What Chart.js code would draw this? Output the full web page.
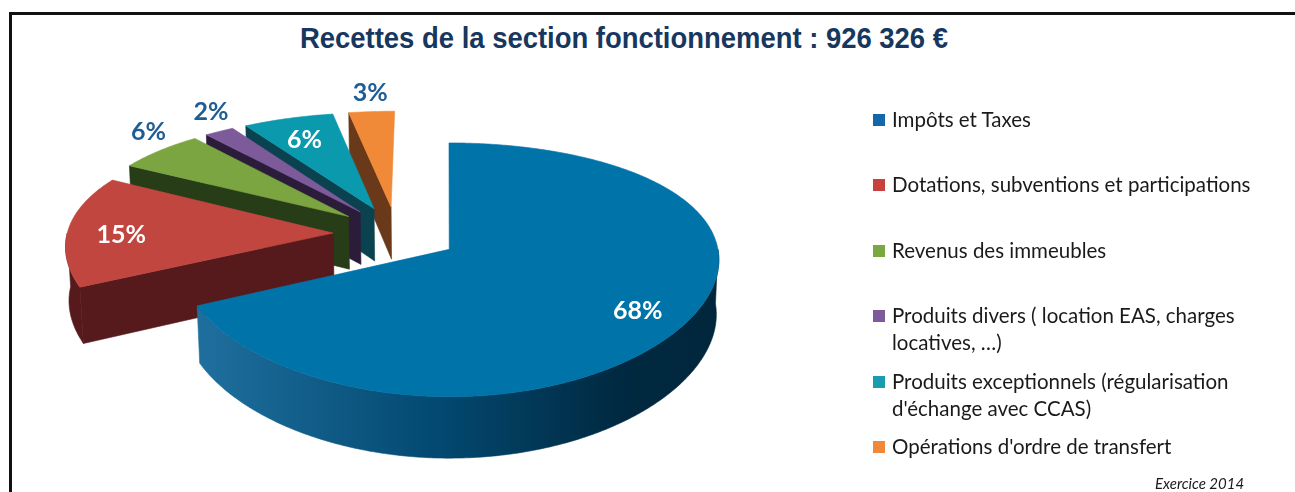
<!DOCTYPE html>
<html>
<head>
<meta charset="utf-8">
<script src="https://cdn.jsdelivr.net/npm/chart.js@4/dist/chart.umd.min.js"></script>
<style>
  body { margin: 0; background: #fff; }
  #wrap { position: relative; width: 1295px; height: 492px; overflow: hidden; }
  #frame { position: absolute; left: 9px; top: 12px; right: -10px; bottom: -10px;
           border-left: 3px solid #111; border-top: 3px solid #111; }
  #title { position: absolute; left: 624px; top: 22px; white-space: nowrap;
           font: bold 29px 'Liberation Sans', Arial, sans-serif;
           color: #17375e; line-height: 32px; transform-origin: 0 0; }
  #legend { position: absolute; left: 873px; top: 106px; width: 420px;
            font: 20.5px Lato, sans-serif; color: #1a1a1a; }
  .item { height: 65.4px; display: flex; align-items: flex-start; }
  .box { width: 12px; height: 12px; margin-top: 8px; margin-right: 7px; flex: none; }
  .txt { line-height: 27px; max-width: 368px; }
  #note { position: absolute; left: 1155px; top: 474px; font: italic 15px Lato, sans-serif; color: #1a1a1a; }
  canvas { position: absolute; left: 0; top: 0; }
</style>
</head>
<body>
<div id="wrap">
  <div id="frame"></div>
  <div id="title">Recettes de la section fonctionnement : 926 326 €</div>
  <div style="position:absolute;left:0;top:0;width:1295px;height:492px"><canvas id="pie3d"></canvas></div>
  <div id="legend"></div>
  <div id="note">Exercice 2014</div>
</div>
<script>
const categories = [
    'Impôts et Taxes',
    'Dotations, subventions et participations',
    'Revenus des immeubles',
    'Produits divers ( location EAS, charges locatives, …)',
    "Produits exceptionnels (régularisation d'échange avec CCAS)",
    "Opérations d'ordre de transfert"
];
const shares = [68, 15, 6, 2, 6, 3];

const topColors = ['#0073a8', '#c0463f', '#7ba541', '#7d5a9a', '#0a99ad', '#f08a38'];
const sideColors = ['#0b4f78', '#561a1c', '#263d17', '#2b1d3a', '#0b4250', '#6a391a'];
const legendColors = ['#1468a8', '#c8423d', '#79a83e', '#7c5a9c', '#1b9bb0', '#f1873a'];
const labelInside = [true, true, false, false, true, false];

// 3d look
const tilt = 26.5 * Math.PI / 180;
const camDist = 1509;
const camShiftX = 50;
const hPersp = 0.5;
const depth = 61;
const explode = 63;

function project(cx, cy, a, b, z) {
    const w = b * Math.cos(tilt) + z * Math.sin(tilt);
    const s = camDist / (camDist - w);
    const sx = 1 + (s - 1) * hPersp;
    return [cx + camShiftX + sx * (a - camShiftX), cy + s * (b * Math.sin(tilt) - z * Math.cos(tilt))];
}

function drawSlice(ctx, el, i) {
    const {x: cx, y: cy, startAngle: s0, endAngle: s1, outerRadius: R} = el;
    const mid = (s0 + s1) / 2;
    const ox = explode * Math.cos(mid), oy = explode * Math.sin(mid);
    const P = (th, r, z) => project(cx, cy, ox + r * Math.cos(th), oy + r * Math.sin(th), z);
    const arc = (a0, a1, z) => {
        const n = Math.max(6, Math.ceil(Math.abs(a1 - a0) / 0.01));
        const pts = [];
        for (let k = 0; k <= n; k++) pts.push(P(a0 + (a1 - a0) * k / n, R, z));
        return pts;
    };
    const fill = (pts, style) => {
        ctx.beginPath();
        pts.forEach((p, k) => k ? ctx.lineTo(p[0], p[1]) : ctx.moveTo(p[0], p[1]));
        ctx.closePath();
        ctx.fillStyle = style;
        ctx.fill();
        ctx.strokeStyle = style;
        ctx.lineWidth = 0.6;
        ctx.stroke();
    };
    // radial faces
    if (Math.cos(s0) < 0) {
        fill([P(0, 0, 0), P(s0, R, 0), P(s0, R, -depth), P(0, 0, -depth)], sideColors[i]);
    }
    if (Math.cos(s1) > 0) {
        fill([P(0, 0, 0), P(s1, R, 0), P(s1, R, -depth), P(0, 0, -depth)], sideColors[i]);
    }
    // outer wall, front half only
    const lo = Math.max(s0, 0), hi = Math.min(s1, Math.PI);
    if (lo < hi) {
        const pts = arc(lo, hi, 0).concat(arc(hi, lo, -depth));
        const xs = pts.map(p => p[0]);
        const g = ctx.createLinearGradient(Math.min(...xs), 0, Math.max(...xs), 0);
        if (i === 0) {
            g.addColorStop(0, '#1f6f9e');
            g.addColorStop(0.45, '#034a72');
            g.addColorStop(0.8, '#002a42');
            g.addColorStop(1, '#00263b');
        } else {
            g.addColorStop(0, sideColors[i]);
            g.addColorStop(1, sideColors[i]);
        }
        fill(pts, g);
    }
    // top face
    fill([P(0, 0, 0)].concat(arc(s0, s1, 0)), topColors[i]);
}

const pie3dPlugin = {
    id: 'pie3d',
    beforeDatasetsDraw(chart) {
        const ctx = chart.ctx;
        const arcs = chart.getDatasetMeta(0).data;
        const order = arcs.map((el, i) => i)
            .sort((a, b) => Math.sin((arcs[a].startAngle + arcs[a].endAngle) / 2) -
                            Math.sin((arcs[b].startAngle + arcs[b].endAngle) / 2));
        ctx.save();
        order.forEach(i => drawSlice(ctx, arcs[i], i));

        const total = shares.reduce((s, v) => s + v, 0);
        ctx.font = 'bold 25px Lato, sans-serif';
        ctx.textAlign = 'center';
        ctx.textBaseline = 'middle';
        arcs.forEach((el, i) => {
            const mid = (el.startAngle + el.endAngle) / 2;
            const txt = Math.round(shares[i] / total * 100) + '%';
            if (labelInside[i]) {
                const r = explode + el.outerRadius * 0.8;
                const p = project(el.x, el.y, r * Math.cos(mid), r * Math.sin(mid), 0);
                ctx.fillStyle = '#ffffff';
                ctx.fillText(txt, p[0], p[1] + 5);
            } else {
                // outside: sit just above the outer edge of the slice
                const r = explode + el.outerRadius;
                const p = project(el.x, el.y, r * Math.cos(mid), r * Math.sin(mid), 0);
                ctx.fillStyle = '#1f5e94';
                ctx.fillText(txt, p[0] + Math.cos(mid) * 14, p[1] - 19);
            }
        });
        ctx.restore();
        return false;
    }
};

new Chart(document.getElementById('pie3d'), {
    type: 'pie',
    data: {
        labels: categories,
        datasets: [{
            data: shares,
            backgroundColor: topColors
        }]
    },
    options: {
        responsive: true,
        maintainAspectRatio: false,
        animation: false,
        radius: 266,
        layout: {padding: {left: 0, right: 503, top: 0, bottom: 24}},
        plugins: {
            legend: {display: false},
            tooltip: {enabled: false}
        }
    },
    plugins: [pie3dPlugin]
});

// narrow title to the reference width
const title = document.getElementById('title');
const tw = title.offsetWidth;
const k = 648 / tw;
title.style.transform = 'translateX(' + (-324) + 'px) scaleX(' + k + ')';

const legend = document.getElementById('legend');
categories.forEach((c, i) => {
    const row = document.createElement('div');
    row.className = 'item';
    row.innerHTML = '<span class="box" style="background:' + legendColors[i] + '"></span><span class="txt"></span>';
    row.querySelector('.txt').textContent = c;
    legend.appendChild(row);
});
</script>
</body>
</html>
